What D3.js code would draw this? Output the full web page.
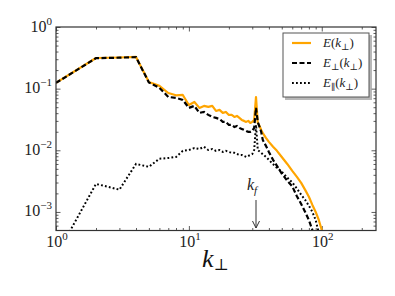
<!DOCTYPE html>
<html><head><meta charset="utf-8">
<script src="https://cdn.jsdelivr.net/npm/d3@7"></script>
<style>body{margin:0;background:#fff}svg{display:block}</style>
</head><body><svg id="c" width="395" height="296"></svg>
<script>
// ---- data ----
const kE = [1,2,3,4,5,6,7,8,9,10,11,12,13,14,15,16,17,18,19,20,21,22,23,24,25,26,27,28,29,30,31,32,33,34,35,36,38,40,43,46,50,55,60,65,70,75,80,85,90,95,100,102];
const E = [0.124,0.314,0.320,0.327,0.128,0.111,0.085,0.078,0.079,0.0544,0.0609,0.0487,0.0525,0.0505,0.0525,0.0435,0.0452,0.0404,0.0419,0.0375,0.0375,0.0348,0.0361,0.0335,0.0311,0.0300,0.0289,0.0300,0.0278,0.0289,0.0311,0.073,0.0278,0.0249,0.0214,0.0191,0.0159,0.0137,0.0114,0.0098,0.0078,0.0060,0.00464,0.00371,0.00296,0.00228,0.00176,0.00130,0.00100,0.00074,0.00051,0.00041];
const kPerp = [1,2,3,4,5,6,7,8,9,10,11,12,13,14,15,16,17,18,19,20,21,22,23,24,25,26,27,28,29,30,31,32,33,34,35,36,38,40,43,46,50,55,60,65,70,75,80,85,88];
const Eperp = [0.124,0.312,0.318,0.325,0.126,0.103,0.0734,0.0707,0.0656,0.0487,0.0525,0.0404,0.0419,0.0375,0.0348,0.0335,0.0323,0.0289,0.0289,0.0258,0.0258,0.0239,0.0248,0.0231,0.0222,0.0214,0.0206,0.0199,0.0199,0.0206,0.0231,0.0487,0.0288,0.024,0.020,0.0147,0.0118,0.0094,0.0070,0.0056,0.0042,0.0032,0.0026,0.0018,0.00135,0.00100,0.00074,0.00051,0.00038];
const kPar = [1,2,3,4,5,6,7,8,9,10,11,12,13,14,15,16,17,18,19,20,21,22,23,24,25,26,27,28,29,30,31,32,33,35,38,40,45,50,55,60,65,70,75,80,85,90,93,96];
const Epar = [0.00019,0.00285,0.0023,0.0060,0.0054,0.0073,0.0075,0.0078,0.0098,0.0101,0.0109,0.0105,0.0114,0.0101,0.0105,0.0098,0.0101,0.0094,0.0098,0.0094,0.0091,0.0091,0.0087,0.0084,0.0084,0.0081,0.0078,0.0081,0.0084,0.0087,0.0101,0.0258,0.0101,0.0091,0.0078,0.0070,0.0054,0.0045,0.0036,0.0030,0.0024,0.0019,0.00157,0.00126,0.00100,0.00074,0.00055,0.00041];
const xMajor = [1,10,100];
const xExp = ["0","1","2"];
const yMajor = [1,0.1,0.01,0.001];
const yExp = ["0","\u22121","\u22122","\u22123"];
const kf = 32;

// ---- layout ----
const L=56,R=376,T=27,B=230.5;
const x=d3.scaleLog().domain([1,256]).range([L,R]);
const y=d3.scaleLog().domain([5e-4,1]).range([B,T]);
const svg=d3.select('#c');
const serif="'Liberation Serif','DejaVu Serif',serif";

svg.append('defs').append('clipPath').attr('id','clip')
  .append('rect').attr('x',L).attr('y',T).attr('width',R-L).attr('height',B-T);

function minors(lo,hi){const out=[];for(let e=Math.floor(Math.log10(lo));e<=Math.ceil(Math.log10(hi));e++){for(let m=2;m<=9;m++){const v=m*Math.pow(10,e);if(v>lo*1.0001&&v<hi*0.9999)out.push(v);}}return out;}
const xMinor=minors(1,256), yMinor=minors(5e-4,1);

function ticks(axisFn,scale,vals,len,tr){
  const g=svg.append('g').attr('transform',tr)
    .call(axisFn(scale).tickValues(vals).tickSize(-len).tickFormat(''));
  g.select('.domain').remove();
  g.selectAll('line').attr('stroke','#333').attr('stroke-width',0.8);
}
[[xMajor,4.5],[xMinor,2.5]].forEach(([v,l])=>{
  ticks(d3.axisBottom,x,v,l,`translate(0,${B})`);
  ticks(d3.axisTop,x,v,l,`translate(0,${T})`);
});
[[yMajor,4.5],[yMinor,2.5]].forEach(([v,l])=>{
  ticks(d3.axisLeft,y,v,l,`translate(${L},0)`);
  ticks(d3.axisRight,y,v,l,`translate(${R},0)`);
});

// ---- series ----
const line=d3.line().x(d=>x(d[0])).y(d=>y(d[1]));
const plot=svg.append('g').attr('clip-path','url(#clip)');
plot.append('path').datum(kPar.map((k,i)=>[k,Epar[i]])).attr('d',line)
  .attr('fill','none').attr('stroke','#000').attr('stroke-width',2).attr('stroke-dasharray','1.8,2.2');
plot.append('path').datum(kE.map((k,i)=>[k,E[i]])).attr('d',line)
  .attr('fill','none').attr('stroke','#FFA500').attr('stroke-width',2.2).attr('stroke-linejoin','round');
plot.append('path').datum(kPerp.map((k,i)=>[k,Eperp[i]])).attr('d',line)
  .attr('fill','none').attr('stroke','#000').attr('stroke-width',2.2).attr('stroke-dasharray','5,2.5');

// frame
svg.append('rect').attr('x',L).attr('y',T).attr('width',R-L).attr('height',B-T)
  .attr('fill','none').attr('stroke','#333').attr('stroke-width',1.2);

// tick labels
xMajor.forEach((v,i)=>{
  const t=svg.append('text').attr('x',x(v)+1).attr('y',B+16).attr('text-anchor','middle')
    .attr('font-family',serif).attr('font-size',16).attr('fill','#222');
  t.append('tspan').text('10');
  t.append('tspan').attr('font-size',11).attr('dy',-7).text(xExp[i]);
});
yMajor.forEach((v,i)=>{
  const t=svg.append('text').attr('x',L-4).attr('y',y(v)+4.5).attr('text-anchor','end')
    .attr('font-family',serif).attr('font-size',16).attr('fill','#222');
  t.append('tspan').text('10');
  t.append('tspan').attr('font-size',11).attr('dy',-7).text(yExp[i]);
});

// x label
const xl=svg.append('text').attr('x',202).attr('y',267).attr('font-family',serif).attr('fill','#111');
xl.append('tspan').attr('font-style','italic').attr('font-size',26).text('k');
xl.append('tspan').attr('font-size',16).attr('dy',3).text('\u22A5');

// k_f annotation
const kt=svg.append('text').attr('x',x(kf)-9).attr('y',190).attr('font-family',serif).attr('fill','#222');
kt.append('tspan').attr('font-style','italic').attr('font-size',16).text('k');
kt.append('tspan').attr('font-style','italic').attr('font-size',11).attr('dy',4).text('f');
const ax=x(kf);
svg.append('line').attr('x1',ax).attr('x2',ax).attr('y1',200).attr('y2',228).attr('stroke','#333').attr('stroke-width',1);
svg.append('path').attr('d',`M${ax-3.5},${221}L${ax},${228}L${ax+3.5},${221}`).attr('fill','none').attr('stroke','#333').attr('stroke-width',1);

// legend
const lg=svg.append('g');
lg.append('rect').attr('x',285).attr('y',35).attr('width',87).attr('height',65).attr('fill','#888').attr('opacity',0.6);
lg.append('rect').attr('x',283).attr('y',33).attr('width',86).attr('height',64).attr('fill','#fff').attr('stroke','#555').attr('stroke-width',1);
const items=[
  {c:'#FFA500',d:null,w:2.2,sub:null},
  {c:'#000',d:'5,2.5',w:2.2,sub:'\u22A5'},
  {c:'#000',d:'1.8,2.2',w:2,sub:'\u2225'}
];
items.forEach((it,i)=>{
  const yy=43+i*20;
  const ln=lg.append('line').attr('x1',292).attr('x2',311).attr('y1',yy).attr('y2',yy)
    .attr('stroke',it.c).attr('stroke-width',it.w);
  if(it.d) ln.attr('stroke-dasharray',it.d);
  const t=lg.append('text').attr('x',323).attr('y',yy+4).attr('font-family',serif).attr('font-size',13).attr('fill','#222');
  t.append('tspan').attr('font-style','italic').text('E');
  if(it.sub) t.append('tspan').attr('font-size',9).attr('dy',3).text(it.sub);
  t.append('tspan').attr('dy',it.sub?-3:0).text('(');
  t.append('tspan').attr('font-style','italic').text('k');
  t.append('tspan').attr('font-size',9).attr('dy',3).text('\u22A5');
  t.append('tspan').attr('dy',-3).text(')');
});
</script></body></html>
